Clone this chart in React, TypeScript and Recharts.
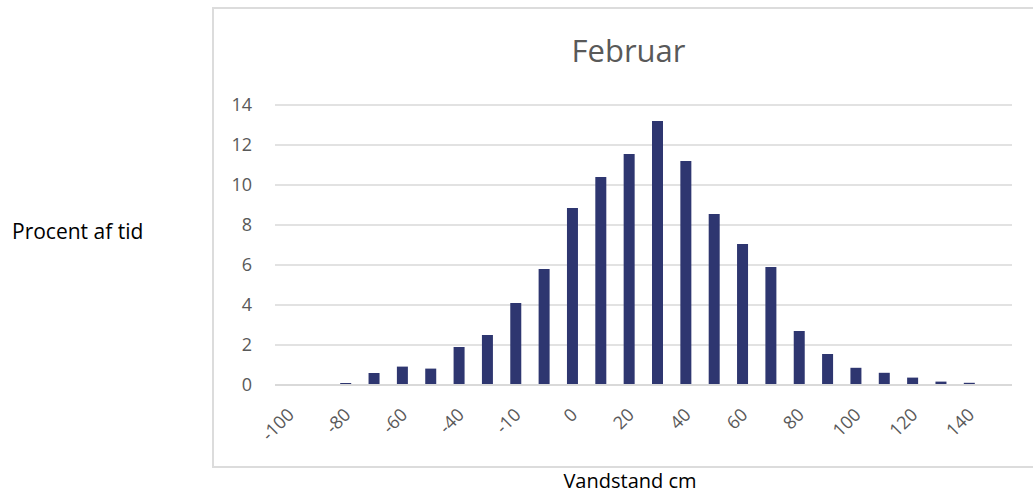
import React from "react";
import { BarChart, Bar, XAxis, YAxis, CartesianGrid } from "recharts";

const categories: string[] = [
  "-100", "-90", "-80", "-70", "-60", "-50", "-40", "-30", "-10", "-10",
  "0", "10", "20", "30", "40", "50", "60", "70", "80", "90",
  "100", "110", "120", "130", "140", "150",
];

const procent: number[] = [
  0, 0, 0.1, 0.6, 0.92, 0.82, 1.9, 2.5, 4.1, 5.8,
  8.85, 10.4, 11.55, 13.2, 11.2, 8.55, 7.05, 5.9, 2.7, 1.55,
  0.86, 0.61, 0.37, 0.17, 0.11, 0.04,
];

const yTicks: number[] = [0, 2, 4, 6, 8, 10, 12, 14];

const data = categories.map((c, i) => ({ cat: c, value: procent[i] }));

const FONT = "'Open Sans', sans-serif";
const GREY = "#595959";

const XTick = (props: any) => {
  const { x, y, payload } = props;
  const px = x + 6;
  const py = y + 31;
  return (
    <text
      x={px}
      y={py}
      transform={`rotate(-45, ${px}, ${py})`}
      textAnchor="end"
      fontFamily={FONT}
      fontSize={18}
      fill={GREY}
    >
      {payload.value}
    </text>
  );
};

export default function App() {
  return (
    <div
      style={{
        position: "absolute",
        left: 0,
        top: 0,
        width: 1033,
        height: 494,
        overflow: "hidden",
        background: "#fff",
        fontFamily: FONT,
      }}
    >
      <div
        style={{
          position: "absolute",
          left: 212,
          top: 7,
          width: 821,
          height: 461,
          borderTop: "2px solid #dcdcdc",
          borderLeft: "2px solid #dcdcdc",
          borderBottom: "2px solid #dcdcdc",
          boxSizing: "border-box",
        }}
      />
      <div
        style={{
          position: "absolute",
          left: 0,
          width: 1257,
          top: 34.5,
          textAlign: "center",
          fontSize: 31,
          lineHeight: 1,
          color: GREY,
          whiteSpace: "nowrap",
        }}
      >
        Februar
      </div>
      <div
        style={{
          position: "absolute",
          left: 12,
          top: 220.5,
          fontSize: 21,
          lineHeight: 1,
          color: "#000",
          whiteSpace: "nowrap",
        }}
      >
        Procent af tid
      </div>
      <div
        style={{
          position: "absolute",
          left: 0,
          width: 1260,
          top: 471,
          textAlign: "center",
          fontSize: 20,
          lineHeight: 1,
          color: "#000",
          whiteSpace: "nowrap",
        }}
      >
        Vandstand cm
      </div>
      <div style={{ position: "absolute", left: 0, top: 0 }}>
        <BarChart
          width={1033}
          height={494}
          data={data}
          margin={{ top: 105, right: 21, bottom: 49, left: 215 }}
          barCategoryGap="30%"
        >
          <CartesianGrid
            vertical={false}
            stroke="#d9d9d9"
            strokeWidth={1.5}
          />
          <XAxis
            dataKey="cat"
            interval={1}
            tickLine={false}
            tickSize={0}
            tickMargin={0}
            height={60}
            axisLine={{ stroke: "#d9d9d9", strokeWidth: 2 }}
            tick={<XTick />}
          />
          <YAxis
            width={60}
            domain={[0, 14]}
            ticks={yTicks}
            interval={0}
            tickLine={false}
            axisLine={false}
            tickSize={0}
            tickMargin={23}
            tick={{ fontFamily: FONT, fontSize: 18, fill: GREY }}
          />
          <Bar dataKey="value" fill="#2e3670" isAnimationActive={false} />
        </BarChart>
      </div>
    </div>
  );
}
